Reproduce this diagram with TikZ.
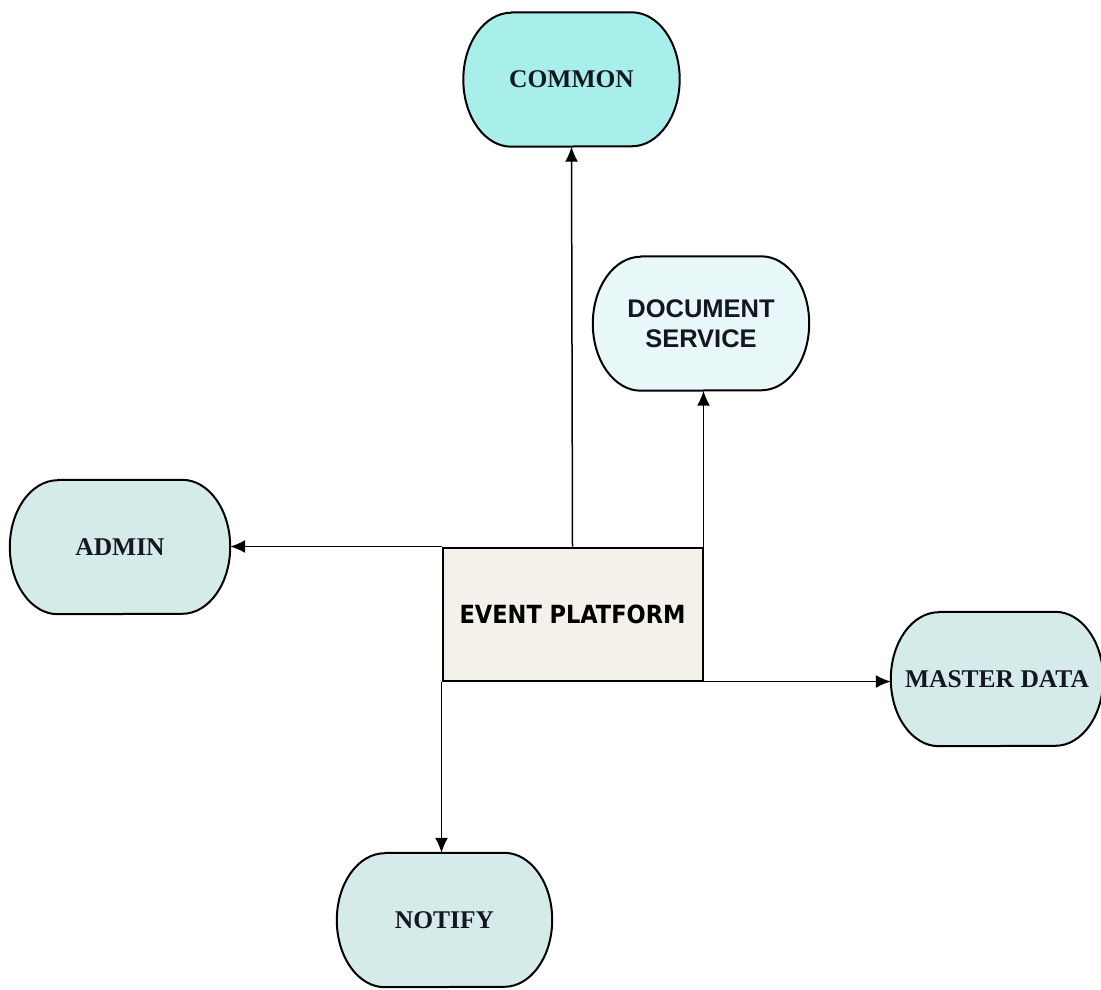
\documentclass[tikz,border=0pt]{standalone}
\usepackage{fontspec}
\setmainfont{Liberation Serif}
\newfontfamily\arialfont{Liberation Sans}
\newfontfamily\tahomafont{DejaVu Sans Condensed}
\usetikzlibrary{arrows.meta,calc,backgrounds}

\definecolor{commonfill}{HTML}{A8EEEA}
\definecolor{docfill}{HTML}{E8F8F8}
\definecolor{modfill}{HTML}{D5EBE9}
\definecolor{platformfill}{HTML}{F4F0EA}
\definecolor{labelink}{HTML}{14181E}

\tikzset{
  module/.style={rectangle, text=labelink, inner sep=0pt,
    minimum width=216pt, minimum height=134pt,
    font=\fontsize{25.5}{26}\selectfont\bfseries},
  outline/.style={draw, line width=2pt, line join=round},
  platform/.style={rectangle, draw, line width=2pt, fill=platformfill,
    inner sep=0pt, minimum width=260pt, minimum height=133pt,
    font=\tahomafont\fontsize{25}{26}\selectfont\bfseries},
  link/.style={->, line width=1.5pt}
}

\begin{document}
\begin{tikzpicture}[x=1pt,y=-1pt,>={Latex[length=15pt,width=13pt]}]
        \useasboundingbox (0,0) rectangle (1101,989);

        % the central platform
        \node[platform] (ep) at (572.5,614) {EVENT PLATFORM};

        % the modules round it
        \node[module] (common) at (571.5,79.5) {COMMON};
        \node[module,align=center,
              font=\arialfont\fontsize{25.5}{30}\selectfont\bfseries]
              (docsvc) at (701,323.5) {DOCUMENT\\SERVICE};
        \node[module,minimum width=220pt] (admin) at (120,547) {ADMIN};
        \node[module,minimum width=212pt] (master) at (997,679) {MASTER DATA};
        \node[module,minimum width=215pt] (notify) at (444.5,920) {NOTIFY};

        % rounded outlines behind the labels
        \begin{scope}[on background layer]
        \foreach \n/\c in {common/commonfill,docsvc/docfill,admin/modfill,
                           master/modfill,notify/modfill}
                \draw[outline,fill=\c] ($(\n.north west)+(48,0)$)
                        -- ($(\n.north east)+(-48,0)$)
                        arc[start angle=90,end angle=-90,x radius=48pt,y radius=67pt]
                        -- ($(\n.south west)+(48,0)$)
                        arc[start angle=270,end angle=90,x radius=48pt,y radius=67pt]
                        -- cycle;
        \end{scope}

        % draw the links
        \draw[link] (ep.north) -- (common.south);
        \draw[link] (ep.north east) -- (ep.north east |- docsvc.south);
        \draw[link] (ep.north west) -- (ep.north west -| admin.east);
        \draw[link] (ep.south east) -- (ep.south east -| master.west);
        \draw[link] (ep.south west) -- (ep.south west |- notify.north);
\end{tikzpicture}
\end{document}
